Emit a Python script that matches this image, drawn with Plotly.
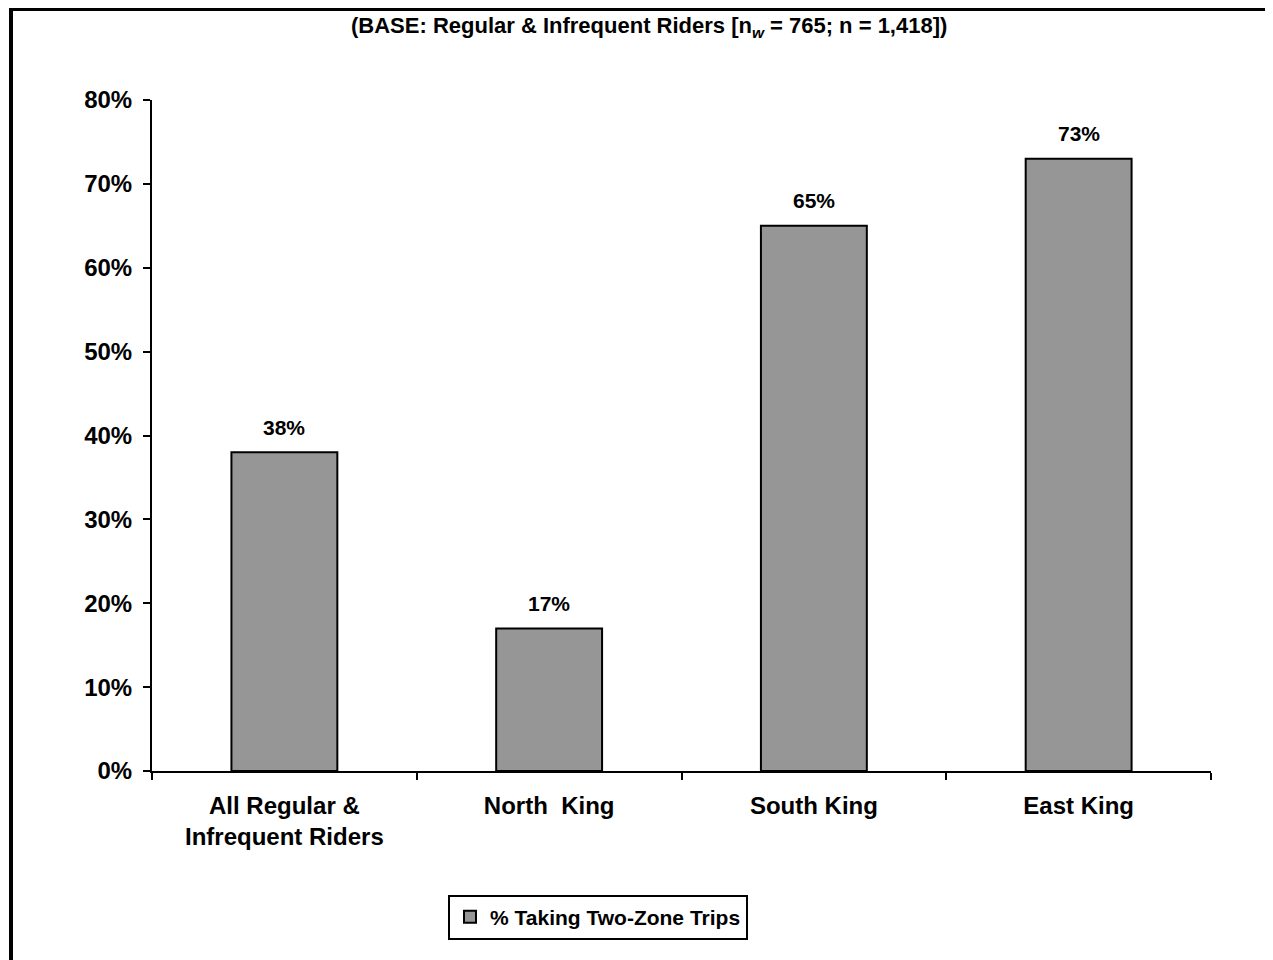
import plotly.graph_objects as go

categories = ["All Regular &<br>Infrequent Riders", "North  King", "South King", "East King"]
values = [38, 17, 65, 73]
value_labels = ["38%", "17%", "65%", "73%"]
series_name = "% Taking Two-Zone Trips"
y_ticks = [0, 10, 20, 30, 40, 50, 60, 70, 80]
y_tick_labels = ["0%", "10%", "20%", "30%", "40%", "50%", "60%", "70%", "80%"]
title_text = "(BASE: Regular & Infrequent Riders [n<sub><i>w</i></sub> = 765; n = 1,418])"

FONT = "Arial, Liberation Sans, Helvetica, sans-serif"
OFF = 8  # page body margin
W, H = 1273 - OFF, 960 - OFF
L = 152 - OFF
T = 100 - OFF
R = W - (1211 - OFF)
B = H - (771 - OFF)
pw, ph = W - L - R, H - T - B

def px_x(px):
    return (px - OFF - L) / pw

def px_y(py):
    return (H - B - (py - OFF)) / ph

fig = go.Figure()
fig.add_trace(go.Bar(
    x=categories, y=values, name=series_name,
    marker=dict(color="#969696", line=dict(color="black", width=2)),
    showlegend=True,
))

for c, v, t in zip(categories, values, value_labels):
    fig.add_annotation(x=c, y=v, text="<b>%s</b>" % t, showarrow=False,
                       yshift=25, font=dict(family=FONT, size=21, color="black"))

fig.add_annotation(xref="paper", yref="paper", x=px_x(649), y=px_y(27),
                   yanchor="middle",
                   text="<b>%s</b>" % title_text, showarrow=False,
                   font=dict(family=FONT, size=22, color="black"))

# frame lines (top and left)
fig.add_shape(type="line", xref="paper", yref="paper",
              x0=px_x(11), x1=px_x(1300), y0=px_y(9), y1=px_y(9),
              line=dict(color="black", width=4))
fig.add_shape(type="line", xref="paper", yref="paper",
              x0=px_x(11), x1=px_x(11), y0=px_y(7), y1=px_y(990),
              line=dict(color="black", width=4))

fig.update_layout(
    width=W, height=H,
    margin=dict(l=L, r=R, t=T, b=B, pad=0),
    paper_bgcolor="white", plot_bgcolor="white",
    bargap=0.6,
    font=dict(family=FONT, color="black"),
    legend=dict(
        x=px_x(598), y=px_y(917), xanchor="center", yanchor="middle",
        orientation="h", bordercolor="black", borderwidth=2,
        font=dict(family=FONT, size=21, color="black", weight="bold"),
        bgcolor="white",
    ),
    xaxis=dict(
        showline=True, linecolor="black", linewidth=2,
        ticks="outside", ticklen=7, tickwidth=2, tickcolor="black",
        tickson="boundaries", showgrid=False, ticklabelstandoff=12,
        tickfont=dict(family=FONT, size=24, color="black", weight="bold"),
    ),
    yaxis=dict(
        range=[0, 80], tickvals=y_ticks, ticktext=y_tick_labels,
        showline=True, linecolor="black", linewidth=2,
        ticks="outside", ticklen=7, tickwidth=2, tickcolor="black",
        showgrid=False, zeroline=False, ticklabelstandoff=6,
        tickfont=dict(family=FONT, size=24, color="black", weight="bold"),
    ),
)

fig.write_html("out.html")
